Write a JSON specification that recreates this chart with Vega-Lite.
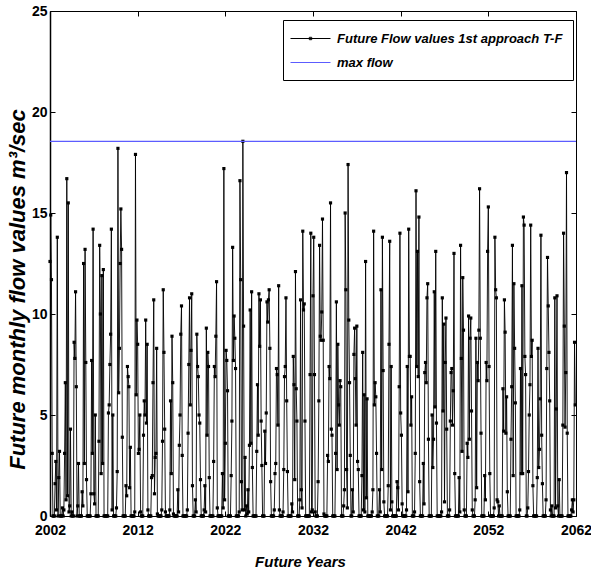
{
"$schema": "https://vega.github.io/schema/vega-lite/v6.json",
"width": 526, "height": 505,
"autosize": {"type": "none"},
"padding": {"left": 50, "top": 11, "right": 15, "bottom": 55},
"background": "white",
"datasets": {
"maxflow": [{"v": 18.55}],
"flow": [
{"m":0,"v":12.6},{"m":1,"v":14.9},{"m":2,"v":11.7},{"m":3,"v":3.1},{"m":4,"v":0},{"m":5,"v":0},{"m":6,"v":0},{"m":7,"v":1.6},{"m":8,"v":2.7},{"m":9,"v":0.3},
{"m":10,"v":13.8},{"m":11,"v":0},{"m":12,"v":1.9},{"m":13,"v":3.2},{"m":14,"v":0},{"m":15,"v":0},{"m":16,"v":0},{"m":17,"v":0.4},{"m":18,"v":0},{"m":19,"v":0.3},
{"m":20,"v":3.1},{"m":21,"v":6.6},{"m":22,"v":0.8},{"m":23,"v":16.7},{"m":24,"v":1.0},{"m":25,"v":15.5},{"m":26,"v":0.2},{"m":27,"v":0.5},{"m":28,"v":4.3},{"m":29,"v":0},
{"m":30,"v":0.2},{"m":31,"v":0},{"m":32,"v":0},{"m":33,"v":8.6},{"m":34,"v":7.8},{"m":35,"v":11.1},{"m":36,"v":6.4},{"m":37,"v":0},{"m":38,"v":0.5},{"m":39,"v":2.6},
{"m":40,"v":0},{"m":41,"v":0},{"m":42,"v":0},{"m":43,"v":0},{"m":44,"v":1.2},{"m":45,"v":0.5},{"m":46,"v":12.5},{"m":47,"v":2.6},{"m":48,"v":13.2},{"m":49,"v":7.6},
{"m":50,"v":1.8},{"m":51,"v":0},{"m":52,"v":0},{"m":53,"v":0},{"m":54,"v":0},{"m":55,"v":0},{"m":56,"v":1.1},{"m":57,"v":7.7},{"m":58,"v":3.1},{"m":59,"v":14.2},
{"m":60,"v":1.1},{"m":61,"v":0.6},{"m":62,"v":5.0},{"m":63,"v":0},{"m":64,"v":0},{"m":65,"v":0},{"m":66,"v":0},{"m":67,"v":3.7},{"m":68,"v":13.4},{"m":69,"v":10.0},
{"m":70,"v":2.1},{"m":71,"v":11.9},{"m":72,"v":2.6},{"m":73,"v":12.2},{"m":74,"v":0},{"m":75,"v":0},{"m":76,"v":0},{"m":77,"v":0},{"m":78,"v":0},{"m":79,"v":0},
{"m":80,"v":5.1},{"m":81,"v":5.5},{"m":82,"v":7.5},{"m":83,"v":9.0},{"m":84,"v":14.2},{"m":85,"v":0.3},{"m":86,"v":5.0},{"m":87,"v":0},{"m":88,"v":0},{"m":89,"v":0},
{"m":90,"v":0},{"m":91,"v":0.4},{"m":92,"v":2.2},{"m":93,"v":18.2},{"m":94,"v":6.1},{"m":95,"v":8.3},{"m":96,"v":12.5},{"m":97,"v":15.2},{"m":98,"v":13.2},{"m":99,"v":3.9},
{"m":100,"v":0},{"m":101,"v":0},{"m":102,"v":0},{"m":103,"v":0},{"m":104,"v":1.5},{"m":105,"v":1.0},{"m":106,"v":7.4},{"m":107,"v":6.9},{"m":108,"v":6.4},{"m":109,"v":1.4},
{"m":110,"v":3.4},{"m":111,"v":0},{"m":112,"v":0},{"m":113,"v":0},{"m":114,"v":0},{"m":115,"v":0},{"m":116,"v":0.2},{"m":117,"v":17.9},{"m":118,"v":6.0},{"m":119,"v":9.7},
{"m":120,"v":8.5},{"m":121,"v":3.1},{"m":122,"v":3.3},{"m":123,"v":5.0},{"m":124,"v":0.2},{"m":125,"v":0},{"m":126,"v":0},{"m":127,"v":0},{"m":128,"v":4.0},{"m":129,"v":5.7},
{"m":130,"v":5.0},{"m":131,"v":9.7},{"m":132,"v":4.6},{"m":133,"v":8.5},{"m":134,"v":0.3},{"m":135,"v":0},{"m":136,"v":0},{"m":137,"v":0},{"m":138,"v":0},{"m":139,"v":1.9},
{"m":140,"v":2.0},{"m":141,"v":6.6},{"m":142,"v":10.7},{"m":143,"v":1.1},{"m":144,"v":2.9},{"m":145,"v":3.1},{"m":146,"v":8.3},{"m":147,"v":0.1},{"m":148,"v":0},{"m":149,"v":0},
{"m":150,"v":0},{"m":151,"v":0},{"m":152,"v":0},{"m":153,"v":0.3},{"m":154,"v":3.7},{"m":155,"v":11.2},{"m":156,"v":8.1},{"m":157,"v":4.3},{"m":158,"v":0.2},{"m":159,"v":0},
{"m":160,"v":0},{"m":161,"v":0},{"m":162,"v":0},{"m":163,"v":0},{"m":164,"v":0.3},{"m":165,"v":5.7},{"m":166,"v":2.1},{"m":167,"v":8.9},{"m":168,"v":6.6},{"m":169,"v":0.1},
{"m":170,"v":0},{"m":171,"v":0},{"m":172,"v":0},{"m":173,"v":0},{"m":174,"v":0},{"m":175,"v":1.3},{"m":176,"v":0.2},{"m":177,"v":3.5},{"m":178,"v":5.0},{"m":179,"v":9.0},
{"m":180,"v":10.4},{"m":181,"v":3.0},{"m":182,"v":0},{"m":183,"v":0},{"m":184,"v":0},{"m":185,"v":0},{"m":186,"v":0},{"m":187,"v":0},{"m":188,"v":0.3},{"m":189,"v":4.1},
{"m":190,"v":7.5},{"m":191,"v":10.8},{"m":192,"v":5.5},{"m":193,"v":8.2},{"m":194,"v":11.0},{"m":195,"v":1.5},{"m":196,"v":0},{"m":197,"v":0},{"m":198,"v":0},{"m":199,"v":0.8},
{"m":200,"v":0.2},{"m":201,"v":9.0},{"m":202,"v":7.4},{"m":203,"v":6.9},{"m":204,"v":5.0},{"m":205,"v":4.6},{"m":206,"v":1.8},{"m":207,"v":0},{"m":208,"v":0},{"m":209,"v":0},
{"m":210,"v":0},{"m":211,"v":0.3},{"m":212,"v":1.5},{"m":213,"v":0.2},{"m":214,"v":9.3},{"m":215,"v":4.0},{"m":216,"v":8.1},{"m":217,"v":7.4},{"m":218,"v":1.9},{"m":219,"v":0},
{"m":220,"v":0},{"m":221,"v":0},{"m":222,"v":0},{"m":223,"v":0},{"m":224,"v":2.7},{"m":225,"v":7.4},{"m":226,"v":6.9},{"m":227,"v":8.9},{"m":228,"v":11.6},{"m":229,"v":0.4},
{"m":230,"v":0},{"m":231,"v":0},{"m":232,"v":0},{"m":233,"v":0},{"m":234,"v":0},{"m":235,"v":0},{"m":236,"v":2.1},{"m":237,"v":0.4},{"m":238,"v":17.2},{"m":239,"v":0.8},
{"m":240,"v":3.6},{"m":241,"v":8.2},{"m":242,"v":7.7},{"m":243,"v":6.2},{"m":244,"v":0},{"m":245,"v":0},{"m":246,"v":0},{"m":247,"v":0},{"m":248,"v":2.0},{"m":249,"v":4.7},
{"m":250,"v":13.3},{"m":251,"v":7.7},{"m":252,"v":9.9},{"m":253,"v":8.8},{"m":254,"v":7.3},{"m":255,"v":0},{"m":256,"v":0},{"m":257,"v":0},{"m":258,"v":0},{"m":259,"v":0.2},
{"m":260,"v":16.6},{"m":261,"v":11.7},{"m":262,"v":1.7},{"m":263,"v":0.3},{"m":264,"v":18.55},{"m":265,"v":9.4},{"m":266,"v":0.3},{"m":267,"v":2.9},{"m":268,"v":0},{"m":269,"v":0.5},
{"m":270,"v":0.1},{"m":271,"v":1.3},{"m":272,"v":0.2},{"m":273,"v":3.5},{"m":274,"v":10.2},{"m":275,"v":3.6},{"m":276,"v":11.1},{"m":277,"v":2.4},{"m":278,"v":0},{"m":279,"v":0},
{"m":280,"v":0},{"m":281,"v":0},{"m":282,"v":0},{"m":283,"v":3.2},{"m":284,"v":6.5},{"m":285,"v":4.0},{"m":286,"v":11.0},{"m":287,"v":8.4},{"m":288,"v":10.7},{"m":289,"v":4.7},
{"m":290,"v":2.5},{"m":291,"v":0},{"m":292,"v":0},{"m":293,"v":0},{"m":294,"v":4.2},{"m":295,"v":2.6},{"m":296,"v":5.1},{"m":297,"v":10.6},{"m":298,"v":9.6},{"m":299,"v":10.7},
{"m":300,"v":11.2},{"m":301,"v":8.3},{"m":302,"v":1.7},{"m":303,"v":0},{"m":304,"v":0},{"m":305,"v":0},{"m":306,"v":0},{"m":307,"v":0.3},{"m":308,"v":2.1},{"m":309,"v":2.6},
{"m":310,"v":7.3},{"m":311,"v":7.0},{"m":312,"v":4.5},{"m":313,"v":11.4},{"m":314,"v":0.3},{"m":315,"v":0},{"m":316,"v":0},{"m":317,"v":0},{"m":318,"v":0},{"m":319,"v":0.2},
{"m":320,"v":2.3},{"m":321,"v":6.9},{"m":322,"v":7.4},{"m":323,"v":10.8},{"m":324,"v":5.7},{"m":325,"v":2.2},{"m":326,"v":0},{"m":327,"v":0},{"m":328,"v":0},{"m":329,"v":0},
{"m":330,"v":0},{"m":331,"v":0.6},{"m":332,"v":0.2},{"m":333,"v":7.9},{"m":334,"v":6.5},{"m":335,"v":1.8},{"m":336,"v":12.1},{"m":337,"v":6.3},{"m":338,"v":4.7},{"m":339,"v":0},
{"m":340,"v":0},{"m":341,"v":0},{"m":342,"v":0.8},{"m":343,"v":10.7},{"m":344,"v":1.3},{"m":345,"v":0.4},{"m":346,"v":14.1},{"m":347,"v":10.2},{"m":348,"v":10.5},{"m":349,"v":4.7},
{"m":350,"v":0},{"m":351,"v":0},{"m":352,"v":0},{"m":353,"v":0},{"m":354,"v":0},{"m":355,"v":0},{"m":356,"v":7.0},{"m":357,"v":14.0},{"m":358,"v":0.2},{"m":359,"v":0.3},
{"m":360,"v":10.9},{"m":361,"v":13.8},{"m":362,"v":7.0},{"m":363,"v":0.2},{"m":364,"v":0},{"m":365,"v":0},{"m":366,"v":0},{"m":367,"v":1.7},{"m":368,"v":5.7},{"m":369,"v":13.4},
{"m":370,"v":8.9},{"m":371,"v":8.7},{"m":372,"v":10.1},{"m":373,"v":14.7},{"m":374,"v":8.7},{"m":375,"v":0.1},{"m":376,"v":0},{"m":377,"v":0},{"m":378,"v":0},{"m":379,"v":0},
{"m":380,"v":3.0},{"m":381,"v":2.7},{"m":382,"v":7.4},{"m":383,"v":6.8},{"m":384,"v":15.5},{"m":385,"v":4.3},{"m":386,"v":4.0},{"m":387,"v":0},{"m":388,"v":0},{"m":389,"v":0},
{"m":390,"v":0},{"m":391,"v":3.1},{"m":392,"v":10.6},{"m":393,"v":2.3},{"m":394,"v":8.5},{"m":395,"v":5.5},{"m":396,"v":4.5},{"m":397,"v":6.7},{"m":398,"v":6.4},{"m":399,"v":0},
{"m":400,"v":0},{"m":401,"v":0},{"m":402,"v":0.5},{"m":403,"v":1.3},{"m":404,"v":15.0},{"m":405,"v":11.2},{"m":406,"v":2.3},{"m":407,"v":0.4},{"m":408,"v":17.4},{"m":409,"v":9.7},
{"m":410,"v":6.6},{"m":411,"v":3.0},{"m":412,"v":0},{"m":413,"v":0},{"m":414,"v":1.3},{"m":415,"v":0.2},{"m":416,"v":8.0},{"m":417,"v":9.3},{"m":418,"v":6.8},{"m":419,"v":4.5},
{"m":420,"v":9.4},{"m":421,"v":2.7},{"m":422,"v":2.3},{"m":423,"v":0},{"m":424,"v":0},{"m":425,"v":0},{"m":426,"v":0},{"m":427,"v":2.0},{"m":428,"v":8.1},{"m":429,"v":0.3},
{"m":430,"v":6.0},{"m":431,"v":0.2},{"m":432,"v":12.6},{"m":433,"v":0.9},{"m":434,"v":5.8},{"m":435,"v":0},{"m":436,"v":0},{"m":437,"v":0},{"m":438,"v":0},{"m":439,"v":0},
{"m":440,"v":0},{"m":441,"v":0.2},{"m":442,"v":1.3},{"m":443,"v":14.1},{"m":444,"v":5.5},{"m":445,"v":6.6},{"m":446,"v":5.9},{"m":447,"v":3.1},{"m":448,"v":0},{"m":449,"v":0},
{"m":450,"v":0},{"m":451,"v":1.3},{"m":452,"v":0.2},{"m":453,"v":11.2},{"m":454,"v":2.3},{"m":455,"v":13.8},{"m":456,"v":7.2},{"m":457,"v":0.7},{"m":458,"v":0},{"m":459,"v":0},
{"m":460,"v":0},{"m":461,"v":0},{"m":462,"v":0},{"m":463,"v":1.5},{"m":464,"v":8.5},{"m":465,"v":13.6},{"m":466,"v":0.3},{"m":467,"v":7.4},{"m":468,"v":0.7},{"m":469,"v":0},
{"m":470,"v":0},{"m":471,"v":0},{"m":472,"v":0},{"m":473,"v":0},{"m":474,"v":0},{"m":475,"v":1.7},{"m":476,"v":1.4},{"m":477,"v":0.3},{"m":478,"v":6.4},{"m":479,"v":14.0},
{"m":480,"v":5.1},{"m":481,"v":4.0},{"m":482,"v":0.6},{"m":483,"v":0},{"m":484,"v":0},{"m":485,"v":0},{"m":486,"v":0},{"m":487,"v":0},{"m":488,"v":0.3},{"m":489,"v":7.4},
{"m":490,"v":1.2},{"m":491,"v":14.2},{"m":492,"v":7.9},{"m":493,"v":7.9},{"m":494,"v":4.5},{"m":495,"v":5.9},{"m":496,"v":0},{"m":497,"v":0},{"m":498,"v":0},{"m":499,"v":0.2},
{"m":500,"v":3.1},{"m":501,"v":16.1},{"m":502,"v":7.4},{"m":503,"v":13.1},{"m":504,"v":6.9},{"m":505,"v":14.8},{"m":506,"v":1.7},{"m":507,"v":0},{"m":508,"v":0},{"m":509,"v":0},
{"m":510,"v":0},{"m":511,"v":2.6},{"m":512,"v":0.6},{"m":513,"v":7.1},{"m":514,"v":7.6},{"m":515,"v":6.6},{"m":516,"v":10.8},{"m":517,"v":11.5},{"m":518,"v":3.8},{"m":519,"v":0},
{"m":520,"v":0},{"m":521,"v":0},{"m":522,"v":0},{"m":523,"v":5.0},{"m":524,"v":2.4},{"m":525,"v":3.8},{"m":526,"v":11.1},{"m":527,"v":5.4},{"m":528,"v":13.1},{"m":529,"v":4.6},
{"m":530,"v":0},{"m":531,"v":0},{"m":532,"v":0},{"m":533,"v":0},{"m":534,"v":0},{"m":535,"v":0},{"m":536,"v":0.2},{"m":537,"v":10.8},{"m":538,"v":5.2},{"m":539,"v":9.5},
{"m":540,"v":0.7},{"m":541,"v":7.6},{"m":542,"v":9.8},{"m":543,"v":4.3},{"m":544,"v":0},{"m":545,"v":0},{"m":546,"v":0},{"m":547,"v":0.3},{"m":548,"v":4.7},{"m":549,"v":7.1},
{"m":550,"v":7.3},{"m":551,"v":4.5},{"m":552,"v":6.2},{"m":553,"v":13.0},{"m":554,"v":2.1},{"m":555,"v":0},{"m":556,"v":0},{"m":557,"v":0},{"m":558,"v":0},{"m":559,"v":0},
{"m":560,"v":1.9},{"m":561,"v":0.2},{"m":562,"v":13.4},{"m":563,"v":7.8},{"m":564,"v":3.2},{"m":565,"v":11.8},{"m":566,"v":9.2},{"m":567,"v":0.3},{"m":568,"v":0},{"m":569,"v":0},
{"m":570,"v":0},{"m":571,"v":3.6},{"m":572,"v":2.9},{"m":573,"v":9.9},{"m":574,"v":3.8},{"m":575,"v":8.8},{"m":576,"v":9.8},{"m":577,"v":5.2},{"m":578,"v":0.3},{"m":579,"v":0},
{"m":580,"v":0},{"m":581,"v":0},{"m":582,"v":0.8},{"m":583,"v":8.8},{"m":584,"v":1.4},{"m":585,"v":7.6},{"m":586,"v":6.7},{"m":587,"v":9.2},{"m":588,"v":16.2},{"m":589,"v":8.8},
{"m":590,"v":4.1},{"m":591,"v":0},{"m":592,"v":0},{"m":593,"v":0},{"m":594,"v":0},{"m":595,"v":2.0},{"m":596,"v":0.8},{"m":597,"v":7.6},{"m":598,"v":6.7},{"m":599,"v":13.1},
{"m":600,"v":15.3},{"m":601,"v":7.4},{"m":602,"v":2.1},{"m":603,"v":0},{"m":604,"v":0},{"m":605,"v":0},{"m":606,"v":0},{"m":607,"v":0},{"m":608,"v":0.4},{"m":609,"v":13.8},
{"m":610,"v":11.2},{"m":611,"v":10.8},{"m":612,"v":0.8},{"m":613,"v":0.7},{"m":614,"v":0},{"m":615,"v":0.5},{"m":616,"v":0},{"m":617,"v":0},{"m":618,"v":0},{"m":619,"v":0},
{"m":620,"v":6.3},{"m":621,"v":4.2},{"m":622,"v":10.7},{"m":623,"v":9.1},{"m":624,"v":4.1},{"m":625,"v":5.9},{"m":626,"v":1.2},{"m":627,"v":0},{"m":628,"v":0},{"m":629,"v":0},
{"m":630,"v":0},{"m":631,"v":3.8},{"m":632,"v":6.4},{"m":633,"v":13.4},{"m":634,"v":2.0},{"m":635,"v":11.5},{"m":636,"v":8.3},{"m":637,"v":5.6},{"m":638,"v":0},{"m":639,"v":0},
{"m":640,"v":0},{"m":641,"v":0},{"m":642,"v":0},{"m":643,"v":0.3},{"m":644,"v":7.3},{"m":645,"v":2.1},{"m":646,"v":11.4},{"m":647,"v":2.1},{"m":648,"v":14.8},{"m":649,"v":14.4},
{"m":650,"v":7.9},{"m":651,"v":7.0},{"m":652,"v":0},{"m":653,"v":0},{"m":654,"v":0.4},{"m":655,"v":2.2},{"m":656,"v":5.0},{"m":657,"v":6.5},{"m":658,"v":14.4},{"m":659,"v":7.9},
{"m":660,"v":8.7},{"m":661,"v":1.5},{"m":662,"v":0},{"m":663,"v":0},{"m":664,"v":0},{"m":665,"v":0},{"m":666,"v":0},{"m":667,"v":1.9},{"m":668,"v":8.3},{"m":669,"v":2.4},
{"m":670,"v":3.3},{"m":671,"v":5.8},{"m":672,"v":13.9},{"m":673,"v":4.0},{"m":674,"v":1.6},{"m":675,"v":0},{"m":676,"v":0},{"m":677,"v":0},{"m":678,"v":0},{"m":679,"v":0.8},
{"m":680,"v":7.3},{"m":681,"v":12.8},{"m":682,"v":10.4},{"m":683,"v":8.1},{"m":684,"v":5.7},{"m":685,"v":0.3},{"m":686,"v":0},{"m":687,"v":0.5},{"m":688,"v":0},{"m":689,"v":0},
{"m":690,"v":0},{"m":691,"v":10.8},{"m":692,"v":0.4},{"m":693,"v":5.3},{"m":694,"v":10.9},{"m":695,"v":0.5},{"m":696,"v":0},{"m":697,"v":1.8},{"m":698,"v":0},{"m":699,"v":0},
{"m":700,"v":0},{"m":701,"v":0},{"m":702,"v":4.5},{"m":703,"v":14.0},{"m":704,"v":9.4},{"m":705,"v":4.4},{"m":706,"v":7.1},{"m":707,"v":17.0},{"m":708,"v":4.1},{"m":709,"v":0},
{"m":710,"v":0},{"m":711,"v":0},{"m":712,"v":0},{"m":713,"v":0},{"m":714,"v":0.3},{"m":715,"v":0.8},{"m":716,"v":0.2},{"m":717,"v":0.8},{"m":718,"v":8.6},{"m":719,"v":5.5}
]
},
"resolve": {"axis": {"x": "independent", "y": "independent"}},
"layer": [
{
"data": {"name": "flow"},
"mark": {"type": "line", "strokeWidth": 0.9, "clip": true},
"encoding": {
"x": {"field": "m", "type": "quantitative",
"scale": {"domain": [0, 720], "nice": false, "zero": false},
"axis": {"orient": "bottom", "values": [0, 120, 240, 360, 480, 600, 720],
"labelExpr": "2002 + datum.value / 12", "labelPadding": 12, "labelFontSize": 14,
"encode": {"labels": {"update": {"dx": {"signal": "datum.value === 720 ? -2 : 0"}}}},
"title": "Future Years",
"titleX": 250, "titleY": 45, "titleBaseline": "middle", "titleAnchor": "middle", "titleAlign": "center"}},
"y": {"field": "v", "type": "quantitative",
"scale": {"domain": [0, 25], "nice": false, "zero": true},
"axis": {"orient": "left", "values": [0, 5, 10, 15, 20, 25],
"encode": {"labels": {"update": {"dy": {"signal": "datum.value === 0 ? -3 : 0"}}}},
"title": "Future monthly flow values m³/sec",
"titleX": -33, "titleY": 278, "titleBaseline": "middle", "titleAngle": 270, "titleAlign": "center",
"domain": true, "domainColor": "black", "domainWidth": 1.5}},
"color": {"datum": "Future Flow values 1st approach T-F",
"scale": {"domain": ["Future Flow values 1st approach T-F", "max flow"], "range": ["black", "#5c5cff"]},
"legend": {"title": null, "orient": "none", "legendX": 233, "legendY": 9,
"padding": 10, "rowPadding": 8, "symbolSize": 256, "symbolStrokeWidth": 1,
"symbolOffset": 9, "labelOffset": 18, "labelLimit": 400,
"labelFont": "Liberation Sans, Arial", "labelFontSize": 13,
"labelFontWeight": "bold", "labelFontStyle": "italic", "labelColor": "black",
"labelExpr": "datum.value === 'max flow' ? '\u00a0\u00a0max flow' : datum.label",
"strokeColor": "black", "fillColor": "white",
"encode": {"symbols": {"update": {
"shape": {"signal": "datum.value === 'max flow' ? 'M-2.5,0H2.5' : 'M-2.5,0H2.5M-0.15,-0.15H0.15V0.15H-0.15Z'"},
"strokeWidth": {"value": 1}}}}}}
}
},
{
"data": {"name": "flow"},
"mark": {"type": "point", "shape": "square", "size": 10, "filled": true, "color": "black", "opacity": 1, "strokeWidth": 0},
"encoding": {
"x": {"field": "m", "type": "quantitative",
"axis": {"orient": "top", "values": [0, 120, 240, 360, 480, 600, 720], "labels": false, "title": null}},
"y": {"field": "v", "type": "quantitative",
"axis": {"orient": "right", "values": [0, 5, 10, 15, 20, 25], "labels": false, "title": null}}
}
},
{
"data": {"name": "maxflow"},
"mark": {"type": "rule", "strokeWidth": 1.2},
"encoding": {
"y": {"field": "v", "type": "quantitative", "axis": null},
"color": {"datum": "max flow"}
}
}
],
"config": {
"view": {"stroke": "black", "strokeWidth": 1},
"axis": {
"domain": false, "grid": false, "ticks": true, "tickSize": -5, "tickColor": "black", "tickWidth": 1,
"labelFont": "Liberation Sans, Arial", "labelFontSize": 14, "labelFontWeight": "bold",
"labelColor": "black", "labelPadding": 8, "labelFlush": false, "labelOverlap": false, "labelBound": false,
"titleFont": "Liberation Sans, Arial", "titleFontSize": 15, "titleFontWeight": "bold",
"titleFontStyle": "italic", "titleColor": "black"
},
"axisLeft": {"titleFontSize": 22}
}
}
